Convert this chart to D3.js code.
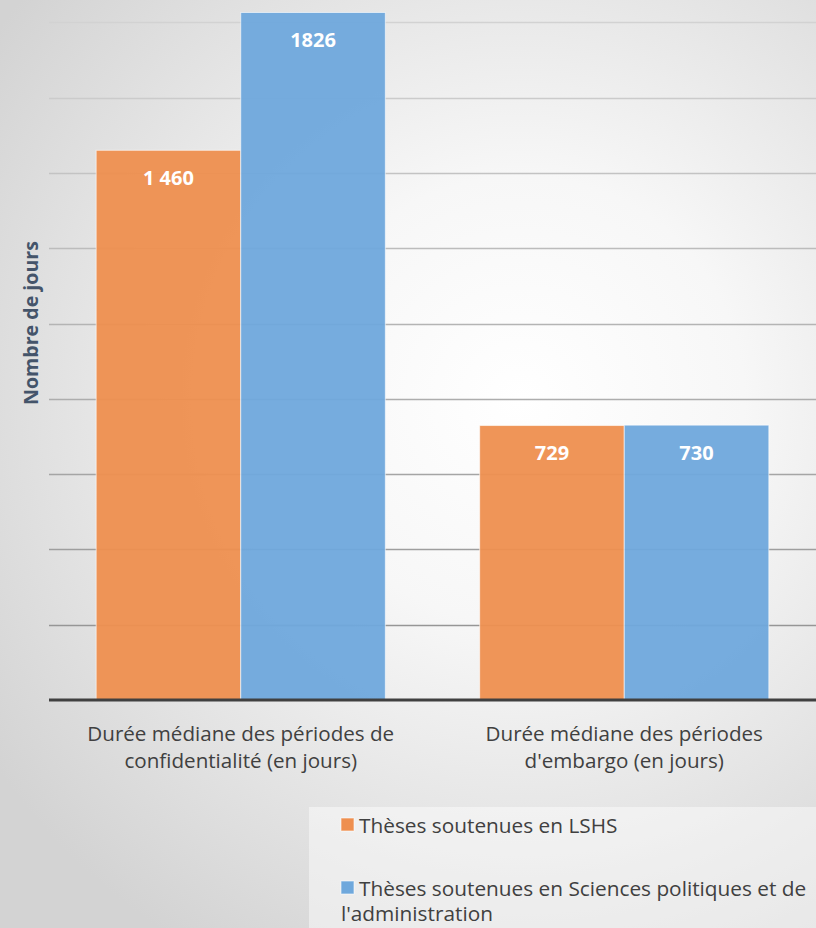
<!DOCTYPE html>
<html><head><meta charset="utf-8">
<script src="https://cdn.jsdelivr.net/npm/d3@7"></script>
<style>html,body{margin:0;padding:0;background:#fff;}svg{display:block;}</style>
</head><body><div id="chart"></div>
<script>
const categories = [
  ["Durée médiane des périodes de", "confidentialité (en jours)"],
  ["Durée médiane des périodes", "d'embargo (en jours)"]
];
const seriesNames = ["Thèses soutenues en LSHS", "Thèses soutenues en Sciences politiques et de l'administration"];
const lshs = [1460, 729];
const sciencesPo = [1826, 730];
const valueLabels = [["1 460", "1826"], ["729", "730"]];
const yTicks = [0, 200, 400, 600, 800, 1000, 1200, 1400, 1600, 1800];
const colors = ["#EE8F4F", "#6FA8DC"];

const W = 816, H = 928;
const svg = d3.select("#chart").append("svg").attr("width", W).attr("height", H);
const defs = svg.append("defs");
const rg = defs.append("radialGradient").attr("id", "bg").attr("gradientUnits", "userSpaceOnUse")
  .attr("cx", 520).attr("cy", 400).attr("r", 640);
rg.append("stop").attr("offset", "0%").attr("stop-color", "#ffffff");
rg.append("stop").attr("offset", "35%").attr("stop-color", "#f7f7f7");
rg.append("stop").attr("offset", "100%").attr("stop-color", "#d3d3d3");
svg.append("rect").attr("width", W).attr("height", H).attr("fill", "url(#bg)");

const FONT = "'Open Sans', 'Noto Sans', sans-serif";
const x0 = d3.scaleBand().domain(d3.range(categories.length)).range([49, 816]).paddingInner(0.246).paddingOuter(0.123);
const x1 = d3.scaleBand().domain([0, 1]).range([0, x0.bandwidth()]).padding(0);
const y = d3.scaleLinear().domain([0, 2000]).range([700, 700 - 753]);

// gridlines
const gridCol = d3.scaleLinear().domain([0, 1800]).range(["#8f8f8f", "#d2d2d2"]);
svg.append("g").selectAll("line").data(yTicks.filter(d => d > 0)).join("line")
  .attr("x1", 49).attr("x2", 816)
  .attr("y1", d => Math.round(y(d)) + 0.5).attr("y2", d => Math.round(y(d)) + 0.5)
  .attr("stroke", d => gridCol(d)).attr("stroke-width", 1.5);

// bars
const rows = categories.map((c, i) => [lshs[i], sciencesPo[i]]);
const groups = svg.append("g").selectAll("g").data(rows).join("g")
  .attr("transform", (d, i) => `translate(${x0(i)},0)`);
groups.selectAll("rect").data(d => d).join("rect")
  .attr("x", (d, j) => x1(j)).attr("width", x1.bandwidth())
  .attr("y", d => y(d)).attr("height", d => y(0) - y(d))
  .attr("fill", (d, j) => colors[j]).attr("fill-opacity", 0.95)
  .attr("stroke", "rgba(255,255,255,0.6)").attr("stroke-width", 1);
groups.selectAll("text").data((d, i) => d.map((v, j) => ({v, j, lab: valueLabels[i][j]}))).join("text")
  .attr("x", d => x1(d.j) + x1.bandwidth() / 2).attr("y", d => y(d.v) + 34.5)
  .attr("text-anchor", "middle").attr("fill", "#fff").attr("font-family", FONT)
  .attr("font-weight", "bold").attr("font-size", 20).text(d => d.lab);

// baseline axis
const xAxis = d3.axisBottom(x0).tickSize(0).tickFormat("");
const ax = svg.append("g").attr("transform", `translate(0,${y(0)})`).call(xAxis);
ax.select(".domain").remove();
svg.append("line").attr("x1", 49).attr("x2", 816).attr("y1", y(0)).attr("y2", y(0))
  .attr("stroke", "#404040").attr("stroke-width", 3);

// category labels
categories.forEach((lines, i) => {
  const t = svg.append("text").attr("text-anchor", "middle").attr("font-family", FONT)
    .attr("font-size", 20.6).attr("fill", "#404040");
  lines.forEach((ln, k) => t.append("tspan").attr("x", x0(i) + x0.bandwidth() / 2).attr("y", 741 + k * 27).text(ln));
});

// y axis title
svg.append("text").attr("transform", "translate(38,323) rotate(-90)").attr("text-anchor", "middle")
  .attr("font-family", FONT).attr("font-size", 19.6).attr("font-weight", "bold").attr("fill", "#44546A")
  .text("Nombre de jours");

// legend
svg.append("rect").attr("x", 309).attr("y", 807).attr("width", 507).attr("height", 121)
  .attr("fill", "#ffffff").attr("fill-opacity", 0.45);
const leg = [
  {c: colors[0], y: 818, lines: [seriesNames[0]]},
  {c: colors[1], y: 881, lines: ["Thèses soutenues en Sciences politiques et de", "l'administration"]}
];
leg.forEach(l => {
  svg.append("rect").attr("x", 341).attr("y", l.y).attr("width", 13).attr("height", 13)
    .attr("fill", l.c).attr("stroke", "rgba(255,255,255,0.6)").attr("stroke-width", 1);
  l.lines.forEach((ln, k) => svg.append("text").attr("x", k === 0 ? 359 : 341).attr("y", l.y + 15 + k * 25)
    .attr("font-family", FONT).attr("font-size", 20.8).attr("fill", "#404040").text(ln));
});
</script></body></html>
